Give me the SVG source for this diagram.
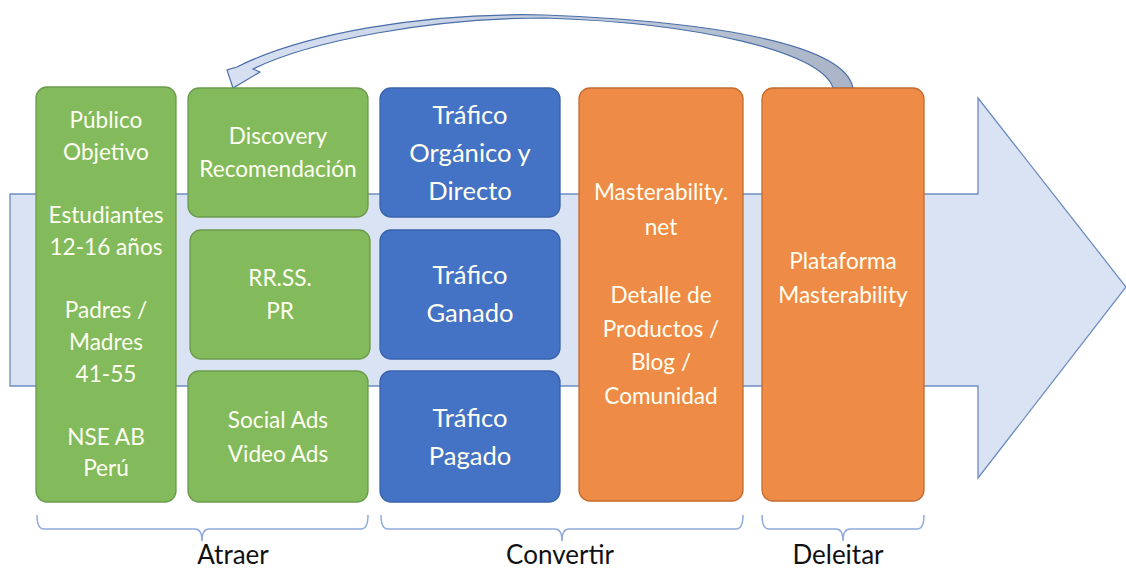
<svg xmlns="http://www.w3.org/2000/svg" width="1126" height="568" viewBox="0 0 1126 568">
<defs>
<style>
.g{fill:#82BA5C;stroke:#6C9B4B;stroke-width:1.3}
.b{fill:#4472C4;stroke:#3A63AD;stroke-width:1.3}
.o{fill:#EE8B46;stroke:#C46C2F;stroke-width:1.3}
.t{font-family:Lato,"Open Sans","Liberation Sans",sans-serif;fill:#FFFFF2;text-anchor:middle;font-size:22.6px}
.tb{font-size:25.6px}
.lab{font-family:Lato,"Open Sans","Liberation Sans",sans-serif;fill:#111;font-size:26px;text-anchor:middle}
.br{fill:none;stroke:#8FAADC;stroke-width:1.5}
</style>
<linearGradient id="cg" x1="0" y1="0" x2="1" y2="0">
<stop offset="0" stop-color="#D7E1F3"/>
<stop offset="0.5" stop-color="#C3CEE0"/>
<stop offset="1" stop-color="#A9B4C6"/>
</linearGradient>
</defs>
<rect width="1126" height="568" fill="#fff"/>
<g id="big-arrow">
<path d="M10,194 L978,194 L978,98 L1126,287 L978,478 L978,386 L10,386 Z" fill="#DAE3F3" stroke="#6F8DC2" stroke-width="1.3"/>
</g>
<g id="connectors">
<path d="M853,88 C845,45 720,22 545,15 C420,12 300,35 237,67 L227,70 L233,88 L260,72 L253,69 C310,41 430,18 545,18 C700,23 822,52 833,88 Z" fill="url(#cg)" stroke="#4B6FA9" stroke-width="1.2"/>
</g>
<g id="publico">
<rect class="g" x="36" y="87" width="140" height="415" rx="11"/>
<text class="t"><tspan x="106" y="128">Público</tspan><tspan x="106" y="160">Objetivo</tspan><tspan x="106" y="223">Estudiantes</tspan><tspan x="106" y="255">12-16 años</tspan><tspan x="106" y="318">Padres /</tspan><tspan x="106" y="350">Madres</tspan><tspan x="106" y="382">41-55</tspan><tspan x="106" y="445">NSE AB</tspan><tspan x="106" y="476">Perú</tspan></text>
</g>
<g id="discovery">
<rect class="g" x="188" y="88" width="180" height="129" rx="11"/>
<text class="t"><tspan x="278" y="144">Discovery</tspan><tspan x="278" y="177">Recomendación</tspan></text>
</g>
<g id="rrss">
<rect class="g" x="190" y="230" width="180" height="129" rx="11"/>
<text class="t"><tspan x="280" y="286">RR.SS.</tspan><tspan x="280" y="319">PR</tspan></text>
</g>
<g id="ads">
<rect class="g" x="188" y="371" width="180" height="131" rx="11"/>
<text class="t"><tspan x="278" y="428">Social Ads</tspan><tspan x="278" y="462">Video Ads</tspan></text>
</g>
<g id="organico">
<rect class="b" x="380" y="88" width="180" height="129" rx="11"/>
<text class="t tb"><tspan x="470" y="124">Tráfico</tspan><tspan x="470" y="162">Orgánico y</tspan><tspan x="470" y="200">Directo</tspan></text>
</g>
<g id="ganado">
<rect class="b" x="380" y="230" width="180" height="129" rx="11"/>
<text class="t tb"><tspan x="470" y="284">Tráfico</tspan><tspan x="470" y="322">Ganado</tspan></text>
</g>
<g id="pagado">
<rect class="b" x="380" y="371" width="180" height="131" rx="11"/>
<text class="t tb"><tspan x="470" y="427">Tráfico</tspan><tspan x="470" y="465">Pagado</tspan></text>
</g>
<g id="masterability-net">
<rect class="o" x="579" y="88" width="164" height="413" rx="11"/>
<text class="t"><tspan x="661" y="200">Masterability.</tspan><tspan x="661" y="235">net</tspan><tspan x="661" y="303">Detalle de</tspan><tspan x="661" y="337">Productos /</tspan><tspan x="661" y="370">Blog /</tspan><tspan x="661" y="404">Comunidad</tspan></text>
</g>
<g id="plataforma">
<rect class="o" x="762" y="88" width="162" height="413" rx="11"/>
<text class="t"><tspan x="843" y="269">Plataforma</tspan><tspan x="843" y="303">Masterability</tspan></text>
</g>
<g id="brackets">
<path class="br" d="M37,515 Q37,529 44,529 L195,529 Q202,529 202,541 Q202,529 209,529 L361,529 Q368,529 368,515"/>
<path class="br" d="M381,515 Q381,529 388,529 L555,529 Q562,529 562,541 Q562,529 569,529 L736,529 Q743,529 743,515"/>
<path class="br" d="M762,515 Q762,529 769,529 L836,529 Q843,529 843,541 Q843,529 850,529 L917,529 Q924,529 924,515"/>
</g>
<g id="labels">
<text class="lab" x="233" y="564">Atraer</text>
<text class="lab" x="560" y="564">Convertir</text>
<text class="lab" x="838" y="564">Deleitar</text>
</g>
</svg>
